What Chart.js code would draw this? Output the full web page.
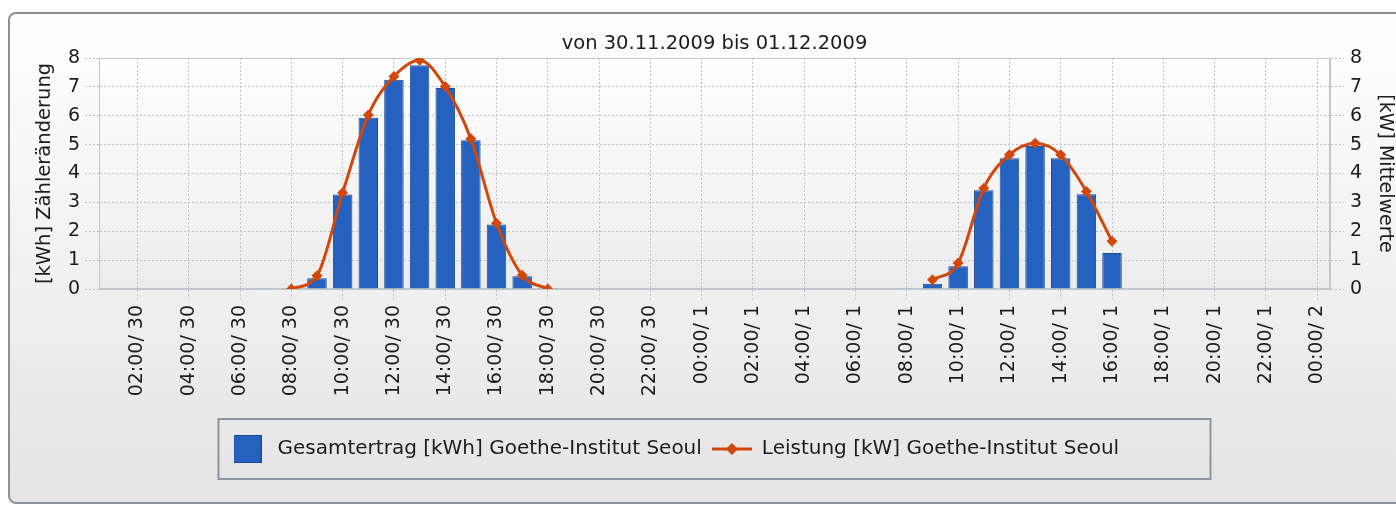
<!DOCTYPE html>
<html>
<head>
<meta charset="utf-8">
<script src="https://cdn.jsdelivr.net/npm/chart.js@4.4.1/dist/chart.umd.min.js"></script>
<style>
html, body { margin: 0; padding: 0; background: #fff; }
#frame {
    position: absolute; left: 8px; top: 12px; width: 1400px; height: 488px;
    border: 2px solid #8c9197; border-radius: 8px;
    background: linear-gradient(#ffffff, #e4e4e4);
}
#wrap { position: absolute; left: 0; top: 0; width: 1396px; height: 506px; }
</style>
</head>
<body>
<div id="frame"></div>
<div id="wrap"><canvas id="chart" width="1396" height="506"></canvas></div>
<script>
// stündliche Kategorien von 01:00 am 30.11. bis 00:00 am 02.12.
const stunden = [
    "01:00/ 30", "02:00/ 30", "03:00/ 30", "04:00/ 30", "05:00/ 30", "06:00/ 30",
    "07:00/ 30", "08:00/ 30", "09:00/ 30", "10:00/ 30", "11:00/ 30", "12:00/ 30",
    "13:00/ 30", "14:00/ 30", "15:00/ 30", "16:00/ 30", "17:00/ 30", "18:00/ 30",
    "19:00/ 30", "20:00/ 30", "21:00/ 30", "22:00/ 30", "23:00/ 30", "00:00/ 1",
    "01:00/ 1", "02:00/ 1", "03:00/ 1", "04:00/ 1", "05:00/ 1", "06:00/ 1",
    "07:00/ 1", "08:00/ 1", "09:00/ 1", "10:00/ 1", "11:00/ 1", "12:00/ 1",
    "13:00/ 1", "14:00/ 1", "15:00/ 1", "16:00/ 1", "17:00/ 1", "18:00/ 1",
    "19:00/ 1", "20:00/ 1", "21:00/ 1", "22:00/ 1", "23:00/ 1", "00:00/ 2"
];

// Gesamtertrag [kWh] pro Stunde
const ertrag = [
    null, null, null, null, null, null,
    0.03, 0.03, 0.37, 3.27, 5.93, 7.25,
    7.75, 6.96, 5.15, 2.23, 0.44, 0.03,
    null, null, null, null, null, null,
    null, null, null, null, null, null,
    null, 0.03, 0.18, 0.79, 3.42, 4.53,
    4.95, 4.53, 3.28, 1.25, null, null,
    null, null, null, null, null, null
];

// Leistung [kW] Mittelwerte
const leistung = [
    null, null, null, null, null, null,
    null, 0, 0.46, 3.33, 6.03, 7.36,
    7.92, 7.01, 5.2, 2.28, 0.48, 0,
    null, null, null, null, null, null,
    null, null, null, null, null, null,
    null, null, 0.32, 0.9, 3.49, 4.65,
    5.05, 4.65, 3.38, 1.65, null, null,
    null, null, null, null, null, null
];

const achsenTicks = [0, 1, 2, 3, 4, 5, 6, 7, 8];

const blau = '#2562c0';
const blauRand = '#1c4a94';
const orange = '#d2470c';
const gitter = '#bcc1c6';
const schrift = '#1c1c1c';

Chart.defaults.font.family = 'DejaVu Sans';
Chart.defaults.font.size = 19;
Chart.defaults.color = schrift;

// Symbole für die Legende
function symbolBalken() {
    const c = document.createElement('canvas');
    c.width = 28; c.height = 28;
    const g = c.getContext('2d');
    g.fillStyle = blau;
    g.fillRect(0, 0, 28, 28);
    g.strokeStyle = blauRand;
    g.lineWidth = 1;
    g.strokeRect(0.5, 0.5, 27, 27);
    return c;
}
function symbolLinie() {
    const c = document.createElement('canvas');
    c.width = 40; c.height = 14;
    const g = c.getContext('2d');
    g.strokeStyle = orange;
    g.lineWidth = 3;
    g.beginPath(); g.moveTo(0, 7); g.lineTo(40, 7); g.stroke();
    g.fillStyle = orange;
    g.beginPath(); g.moveTo(20, 1); g.lineTo(26, 7); g.lineTo(20, 13); g.lineTo(14, 7); g.closePath(); g.fill();
    return c;
}
const legendSymbole = [symbolBalken(), symbolLinie()];

const hintergrund = {
    id: 'hintergrund',
    beforeDraw(chart) {
        const {ctx, chartArea: a} = chart;
        ctx.save();
        const grad = ctx.createLinearGradient(0, a.top, 0, a.bottom);
        grad.addColorStop(0, '#ffffff');
        grad.addColorStop(1, '#ececec');
        ctx.fillStyle = grad;
        ctx.fillRect(a.left, a.top, a.right - a.left, a.bottom - a.top);
        // Rahmen der Legende
        const cx = (a.left + a.right) / 2;
        ctx.strokeStyle = '#8e959c';
        ctx.lineWidth = 2;
        ctx.strokeRect(cx - 496, 419, 992, 60);
        ctx.restore();
    },
    beforeDatasetsDraw(chart) {
        const {ctx, chartArea: a} = chart;
        ctx.save();
        ctx.strokeStyle = '#c3c7cb';
        ctx.lineWidth = 1;
        ctx.strokeRect(a.left + 0.5, a.top + 0.5, a.right - a.left - 1, a.bottom - a.top - 1);
        ctx.restore();
    },
    afterLayout(chart) {
        // Legende in den Rahmen schieben
        const a = chart.chartArea;
        const lg = chart.legend;
        const cx = (a.left + a.right) / 2;
        lg.left = cx - 496 - 1;
        lg.right = lg.left + 992;
        lg.width = 992;
        lg.top = 449 - 10 - 10;
        lg.bottom = lg.top + 40;
    }
};

new Chart(document.getElementById('chart'), {
    type: 'bar',
    data: {
        labels: stunden,
        datasets: [{
            type: 'line',
            label: 'Leistung [kW] Goethe-Institut Seoul',
            data: leistung,
            yAxisID: 'y1',
            order: 0,
            borderColor: orange,
            backgroundColor: orange,
            borderWidth: 3,
            cubicInterpolationMode: 'monotone',
            spanGaps: false,
            pointStyle: 'rectRot',
            pointRadius: 5.5,
            pointBorderWidth: 0,
            pointBackgroundColor: orange
        }, {
            label: 'Gesamtertrag [kWh] Goethe-Institut Seoul',
            data: ertrag,
            yAxisID: 'y',
            order: 1,
            backgroundColor: blau,
            borderColor: blauRand,
            borderWidth: 1,
            barPercentage: 0.76,
            categoryPercentage: 1
        }]
    },
    options: {
        responsive: false,
        animation: false,
        layout: { padding: 0 },
        plugins: {
            title: {
                display: true,
                text: 'von 30.11.2009 bis 01.12.2009',
                fullSize: false,
                color: schrift,
                font: { size: 19.5, weight: 'normal' },
                padding: { top: 32, bottom: 2.6 }
            },
            legend: {
                position: 'bottom',
                fullSize: false,
                align: 'start',
                reverse: true,
                labels: {
                    usePointStyle: true,
                    pointStyleWidth: 40,
                    padding: 10,
                    color: schrift,
                    font: { size: 20 },
                    generateLabels(chart) {
                        const items = Chart.defaults.plugins.legend.labels.generateLabels(chart);
                        items.forEach(it => { it.pointStyle = legendSymbole[it.datasetIndex === 1 ? 0 : 1]; });
                        return items;
                    }
                }
            },
            tooltip: { enabled: false }
        },
        scales: {
            x: {
                type: 'category',
                offset: true,
                afterFit(s) { s.height = 177; },
                grid: {
                    offset: false,
                    color: c => (c.index % 2 === 1 ? gitter : 'rgba(0,0,0,0)'),
                    tickLength: 12,
                    tickBorderDash: [2, 2]
                },
                border: { display: true, color: '#c3c7cb', dash: [2, 2] },
                ticks: {
                    autoSkip: false,
                    minRotation: 90,
                    maxRotation: 90,
                    padding: 4,
                    color: schrift,
                    callback: (v, i) => (i % 2 === 1 ? stunden[i] : '')
                }
            },
            y: {
                position: 'left',
                min: 0,
                max: 8,
                afterFit(s) { s.width = 99; },
                afterBuildTicks(s) { s.ticks = achsenTicks.map(v => ({ value: v })); },
                grid: { color: gitter, tickLength: 14, tickBorderDash: [2, 2] },
                border: { display: true, color: '#c3c7cb', dash: [2, 2] },
                ticks: { padding: 5, color: schrift },
                title: {
                    display: true,
                    text: '[kWh] Zähleränderung',
                    color: schrift,
                    font: { size: 19.5 },
                    padding: { top: 33, bottom: 0 }
                }
            },
            y1: {
                position: 'right',
                min: 0,
                max: 8,
                afterFit(s) { s.width = 66; },
                afterBuildTicks(s) { s.ticks = achsenTicks.map(v => ({ value: v })); },
                grid: { drawOnChartArea: false, color: gitter, tickLength: 14, tickBorderDash: [2, 2] },
                border: { display: true, color: '#c3c7cb' },
                ticks: { padding: 6, color: schrift },
                title: {
                    display: true,
                    text: '[kW] Mittelwerte',
                    color: schrift,
                    font: { size: 19 },
                    padding: { top: 0, bottom: 0 }
                }
            }
        }
    },
    plugins: [hintergrund]
});
</script>
</body>
</html>
